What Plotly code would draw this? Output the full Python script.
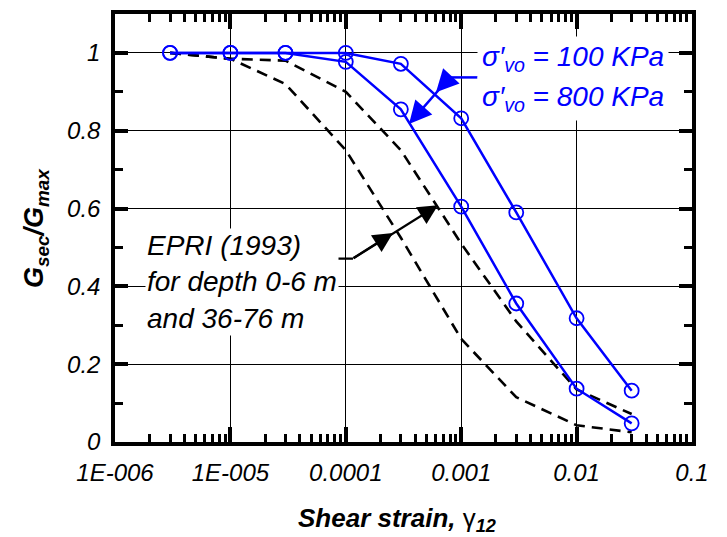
import plotly.graph_objects as go

# shear strain levels (log axis)
strain = [3e-6, 1e-5, 3e-5, 1e-4, 3e-4, 1e-3, 3e-3, 1e-2, 3e-2]

# G_sec/G_max from tests
g_100kpa = [1.0, 1.0, 1.0, 1.0, 0.972, 0.832, 0.59, 0.318, 0.132]
g_800kpa = [1.0, 1.0, 1.0, 0.977, 0.855, 0.605, 0.356, 0.137, 0.048]

# EPRI (1993) reference curves
epri_shallow = [1.0, 0.985, 0.98, 0.90, 0.75, 0.51, 0.31, 0.135, 0.072]
epri_deep = [1.0, 0.985, 0.92, 0.75, 0.525, 0.265, 0.115, 0.043, 0.025]

x_tickvals = [1e-6, 1e-5, 1e-4, 1e-3, 1e-2, 1e-1]
x_ticktext = ["1E-006", "1E-005", "0.0001", "0.001", "0.01", "0.1"]
y_tickvals = [0, 0.2, 0.4, 0.6, 0.8, 1.0]
y_ticktext = ["0", "0.2", "0.4", "0.6", "0.8", "1"]

x_minor = [k * 10.0 ** e for e in range(-6, -1) for k in range(2, 10)]
y_minor = [0.1, 0.3, 0.5, 0.7, 0.9]

FONT = "Arial, Liberation Sans, sans-serif"
BLUE = "#0000FF"

# page has an 8px body margin, so the figure is drawn 8px in from the window
PAGE_OFF = 8
PLOT_L, PLOT_R, PLOT_T, PLOT_B = 115, 692, 10, 442

fig = go.Figure()

for ys in [epri_shallow, epri_deep]:
    fig.add_trace(go.Scatter(
        x=strain, y=ys, mode="lines",
        line=dict(color="black", width=2.6, dash="11px,7px"),
        showlegend=False, hoverinfo="skip"
    ))

for ys in [g_100kpa, g_800kpa]:
    fig.add_trace(go.Scatter(
        x=strain, y=ys, mode="lines+markers",
        line=dict(color=BLUE, width=2.5),
        marker=dict(symbol="circle-open", size=14, color=BLUE, line=dict(width=1.8)),
        showlegend=False
    ))

# invisible helper trace so the minor-tick overlay axes get drawn
fig.add_trace(go.Scatter(
    x=[strain[0]], y=[g_100kpa[0]], xaxis="x2", yaxis="y2",
    mode="markers", marker=dict(opacity=0), showlegend=False, hoverinfo="skip"
))

axis_common = dict(
    showline=True, linecolor="black", linewidth=3.5, mirror="allticks",
    ticks="inside", tickcolor="black", zeroline=False,
    tickfont=dict(family=FONT, size=24, color="black", style="italic"),
    ticklabelstandoff=6,
)

fig.update_layout(
    xaxis=dict(
        type="log", range=[-6, -1],
        tickmode="array", tickvals=x_tickvals, ticktext=x_ticktext,
        ticklen=15, tickwidth=3.5,
        showgrid=True, gridcolor="black", gridwidth=1.2,
        **axis_common
    ),
    yaxis=dict(
        range=[0, 1.1],
        tickmode="array", tickvals=y_tickvals, ticktext=y_ticktext,
        ticklen=13, tickwidth=3.5,
        showgrid=True, gridcolor="black", gridwidth=1.2,
        **axis_common
    ),
    xaxis2=dict(
        type="log", range=[-6, -1], overlaying="x", anchor="y2", side="bottom",
        tickmode="array", tickvals=x_minor, showticklabels=False,
        ticks="inside", ticklen=8, tickwidth=3, tickcolor="black",
        showline=True, linecolor="black", linewidth=3.5, mirror="allticks",
        showgrid=False, zeroline=False
    ),
    yaxis2=dict(
        range=[0, 1.1], overlaying="y", anchor="x2", side="left",
        tickmode="array", tickvals=y_minor, showticklabels=False,
        ticks="inside", ticklen=8, tickwidth=3, tickcolor="black",
        showline=True, linecolor="black", linewidth=3.5, mirror="allticks",
        showgrid=False, zeroline=False
    ),
)

def px_to_paper(px, py):
    return (px - PLOT_L) / (PLOT_R - PLOT_L), (PLOT_B - py) / (PLOT_B - PLOT_T)

annotations = []

# axis titles
annotations.append(dict(
    text="<b><i>Shear strain, </i></b>γ<sub><b><i>12</i></b></sub>",
    xref="paper", yref="paper", x=px_to_paper(397, 0)[0], y=px_to_paper(0, 520)[1],
    xanchor="center", yanchor="middle",
    showarrow=False, font=dict(family=FONT, size=26, color="black")
))
annotations.append(dict(
    text="<b><i>G<sub>sec</sub>/G<sub>max</sub></i></b>",
    xref="paper", yref="paper", x=px_to_paper(36, 0)[0], y=0.5, textangle=-90,
    xanchor="center", yanchor="middle",
    showarrow=False, font=dict(family=FONT, size=27, color="black")
))

# pressure labels
for label, py in [("σ′<sub>vo</sub> = 100 KPa", 55), ("σ′<sub>vo</sub> = 800 KPa", 95)]:
    px, pyp = px_to_paper(477, py)
    annotations.append(dict(
        text=label, xref="paper", yref="paper", x=px, y=pyp,
        xanchor="left", yanchor="middle", showarrow=False,
        bgcolor="white", borderpad=4,
        font=dict(family=FONT, size=28, color=BLUE, style="italic")
    ))

# EPRI label
px, pyp = px_to_paper(145, 281)
annotations.append(dict(
    text="EPRI (1993)<br>for depth 0-6 m<br>and 36-76 m",
    xref="paper", yref="paper", x=px, y=pyp, align="left",
    xanchor="left", yanchor="middle", showarrow=False,
    bgcolor="white", borderpad=1,
    font=dict(family=FONT, size=28, color="black", style="italic")
))

# arrows (heads in data coords, tails as pixel offsets)
def arrow(head_px, head_py, tail_px, tail_py, color, width):
    return dict(
        text="", xref="x", yref="y",
        x=(head_px - PLOT_L) / ((PLOT_R - PLOT_L) / 5) - 6,
        y=(PLOT_B - head_py) / ((PLOT_B - PLOT_T) / 1.1),
        ax=tail_px - head_px, ay=tail_py - head_py,
        showarrow=True, arrowhead=2, arrowsize=1.8, arrowwidth=width,
        arrowcolor=color, standoff=0, startstandoff=0
    )

annotations.append(arrow(436, 89, 450, 74, BLUE, 2.5))
annotations.append(arrow(409, 121, 450, 74, BLUE, 2.5))
annotations.append(arrow(393, 231, 352, 257, "black", 2.2))
annotations.append(arrow(438, 203, 352, 257, "black", 2.2))

shapes = []
x0, y0 = px_to_paper(450, 74)
x1, _ = px_to_paper(478, 74)
shapes.append(dict(type="line", xref="paper", yref="paper", x0=x0, x1=x1, y0=y0, y1=y0,
                   line=dict(color=BLUE, width=2.5)))
x0, y0 = px_to_paper(312, 257)
x1, _ = px_to_paper(353, 257)
shapes.append(dict(type="line", xref="paper", yref="paper", x0=x0, x1=x1, y0=y0, y1=y0,
                   line=dict(color="black", width=2.2)))

W, H = 727 - PAGE_OFF, 537 - PAGE_OFF
fig.update_layout(
    width=W, height=H,
    margin=dict(l=PLOT_L - PAGE_OFF, r=W - (PLOT_R - PAGE_OFF),
                t=PLOT_T - PAGE_OFF, b=H - (PLOT_B - PAGE_OFF)),
    plot_bgcolor="white", paper_bgcolor="white",
    font=dict(family=FONT, color="black"),
    annotations=annotations, shapes=shapes,
    showlegend=False
)

fig.write_html("out.html")
